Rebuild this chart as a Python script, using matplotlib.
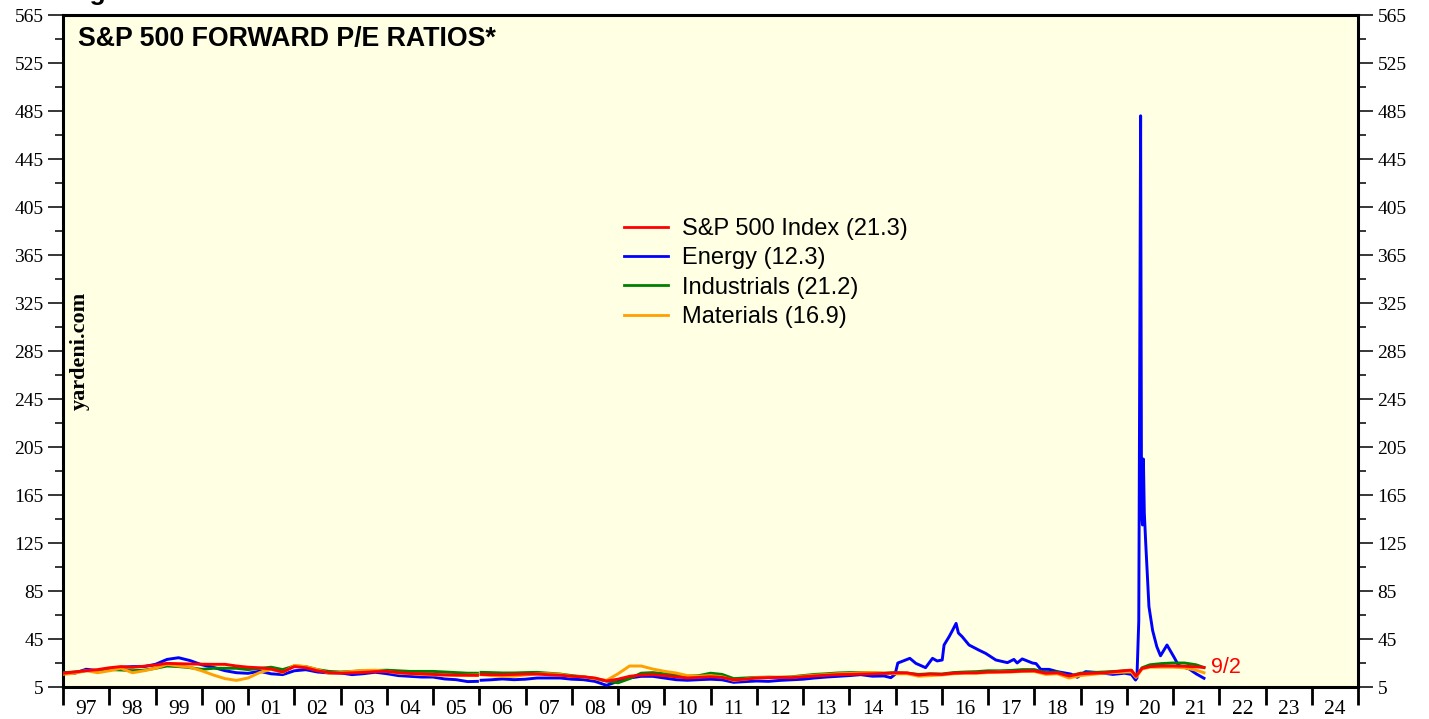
import numpy as np
import matplotlib
matplotlib.use("Agg")
import matplotlib.pyplot as plt
from matplotlib.ticker import FixedLocator, NullFormatter

# ----------------------------------------------------------------- #
# Données (trimestrielles + points clés)

# grille commune : trimestres 1997-2019, rupture début 2006, détails 2020-21
t_main = np.concatenate([
    np.arange(1997.0, 2006.0, 0.25),
    [2005.96, 2006.0, 2006.04],
    np.arange(2006.25, 2020.0, 0.25),
    [2020.0, 2020.1, 2020.2, 2020.33, 2020.5, 2020.75, 2021.0, 2021.25, 2021.5, 2021.67],
])

sp500 = [
    16.4, 17.5, 18.6, 19.5,   # 97
    21.0, 22.0, 21.4, 22.3,   # 98
    23.3, 24.7, 24.4, 24.2,   # 99
    24.0, 23.9, 23.9, 22.5,   # 00
    21.5, 21.0, 20.0, 17.5,   # 01
    22.0, 21.0, 18.5, 17.0,   # 02
    16.5, 16.8, 17.2, 17.8,   # 03
    18.0, 17.0, 16.3, 16.0,   # 04
    15.5, 15.2, 15.0, 14.8,   # 05
    14.7, np.nan, 15.5,
    15.3, 15.2, 15.5,         # 06
    15.8, 15.8, 15.2, 14.8,   # 07
    13.9, 13.5, 12.5, 10.0,   # 08
    11.5, 13.9, 15.0, 15.3,   # 09
    14.5, 13.5, 12.5, 13.0,   # 10
    13.5, 13.0, 11.0, 11.5,   # 11
    12.5, 12.8, 13.0, 12.8,   # 12
    13.5, 14.2, 14.8, 15.3,   # 13
    15.5, 15.8, 16.0, 16.3,   # 14
    16.8, 16.8, 15.0, 15.8,   # 15
    15.5, 16.5, 16.8, 16.8,   # 16
    17.5, 17.5, 17.8, 18.3,   # 17
    18.5, 16.5, 16.8, 14.2,   # 18
    16.0, 16.5, 16.8, 17.8,   # 19
    18.8, 19.0, 14.0, 20.5, 22.0, 22.5, 22.5, 22.3, 21.8, 21.3,
]

industrials = [
    16.9, 17.5, 18.6, 18.8,
    19.5, 19.2, 18.6, 19.0,
    20.6, 22.5, 22.0, 21.1,
    19.7, 20.6, 20.6, 20.6,
    19.5, 20.5, 21.5, 19.5,
    22.5, 22.0, 19.5, 18.0,
    17.5, 18.0, 18.5, 18.8,
    19.0, 18.5, 18.0, 18.0,
    18.0, 17.5, 17.0, 16.5,
    16.5, np.nan, 17.2,
    17.0, 16.7, 16.7,
    17.0, 17.2, 16.5, 15.8,
    14.5, 13.5, 12.0, 10.0,
    8.5, 12.0, 16.5, 17.0,
    16.0, 15.0, 14.0, 14.5,
    16.5, 15.5, 12.0, 12.5,
    13.0, 13.2, 13.0, 13.5,
    14.5, 15.5, 16.0, 16.7,
    17.0, 17.0, 16.8, 16.5,
    17.0, 16.5, 15.5, 16.0,
    15.8, 17.0, 17.5, 17.8,
    18.5, 18.5, 18.8, 19.5,
    19.5, 17.0, 17.5, 14.0,
    16.5, 17.0, 17.5, 18.0,
    18.5, 18.8, 13.5, 21.0, 23.5, 24.5, 25.0, 25.0, 23.5, 21.2,
]

materials = [
    15.6, 16.4, 18.6, 16.9,
    18.5, 20.6, 16.9, 18.5,
    20.6, 23.9, 22.5, 21.4,
    18.5, 15.0, 12.0, 10.5,
    12.5, 17.0, 19.7, 17.0,
    23.0, 22.0, 19.5, 16.5,
    17.0, 18.0, 18.8, 19.0,
    18.0, 16.5, 16.0, 15.5,
    15.0, 14.8, 14.5, 14.8,
    15.0, np.nan, 15.3,
    14.5, 13.9, 14.0,
    15.0, 15.8, 16.0, 15.5,
    13.9, 13.5, 12.0, 10.5,
    16.0, 22.5, 22.5, 20.0,
    18.1, 16.7, 14.5, 14.0,
    14.5, 13.5, 10.5, 11.5,
    12.8, 13.0, 13.2, 13.2,
    14.0, 14.8, 15.3, 16.0,
    16.2, 16.8, 17.0, 16.5,
    16.0, 16.0, 14.0, 14.5,
    15.0, 16.0, 16.5, 16.5,
    17.0, 17.5, 17.5, 18.0,
    18.0, 15.5, 16.0, 12.5,
    14.5, 15.5, 16.5, 17.0,
    17.5, 17.5, 13.0, 20.0, 21.5, 21.5, 21.5, 21.0, 19.0, 16.9,
]

# Energy : sa propre grille (pics 2015-16 et 2020)
t_energy = np.concatenate([
    np.arange(1997.0, 2006.0, 0.25),
    [2005.96, 2006.0, 2006.04],
    np.arange(2006.25, 2015.0, 0.25),
    [2014.9, 2014.99, 2015.05, 2015.12, 2015.31, 2015.44, 2015.65, 2015.8, 2015.9,
     2016.01, 2016.05, 2016.16, 2016.23, 2016.31, 2016.36, 2016.44, 2016.59, 2016.8, 2016.95,
     2017.17, 2017.42, 2017.56, 2017.63, 2017.74, 2017.96, 2018.04, 2018.14, 2018.32, 2018.5,
     2018.79, 2018.93, 2019.11, 2019.4, 2019.7, 2019.95, 2020.1, 2020.19, 2020.22, 2020.26,
     2020.30, 2020.32, 2020.34, 2020.36, 2020.38, 2020.41, 2020.48, 2020.56, 2020.65, 2020.73,
     2020.87, 2021.02, 2021.12, 2021.35, 2021.5, 2021.67],
])

energy = [
    16.9, 16.4, 19.8, 18.6,
    19.0, 21.4, 22.0, 22.0,
    23.9, 28.0, 29.4, 27.0,
    23.5, 21.4, 18.6, 16.9,
    16.4, 18.1, 16.0, 15.3,
    18.5, 19.4, 17.5, 16.7,
    16.7, 15.3, 16.1, 17.3,
    16.1, 14.5, 13.9, 13.3,
    13.3, 11.7, 11.1, 9.5,
    9.7, np.nan, 10.6,
    11.0, 11.7, 11.1,
    11.5, 12.5, 12.5, 12.5,
    11.5, 11.1, 9.7, 6.4,
    9.7, 12.5, 13.9, 13.9,
    12.5, 11.1, 10.6, 11.1,
    11.5, 11.0, 8.9, 9.5,
    10.0, 9.7, 10.5, 11.0,
    11.5, 12.5, 13.3, 13.9,
    14.5, 15.3, 14.0, 14.2,
    12.8, 15.5, 25.0, 26.0, 28.9, 24.7, 21.1, 28.9, 26.7,
    27.5, 40.0, 47.0, 52.0, 58.0, 50.0, 47.0, 40.0, 35.8, 33.0,
    27.5, 25.3, 28.0, 25.0, 28.4, 25.0, 24.5, 19.7, 19.7, 17.8,
    15.8, 13.1, 17.8, 17.0, 15.5, 16.5, 15.5, 10.8, 12.5, 60.0,
    481.0, 150.0, 140.0, 195.0, 150.0, 125.0, 72.0, 52.0, 38.6, 31.0,
    40.0, 30.0, 23.0, 20.0, 16.0, 12.3,
]

series_names = ["S&P 500 Index (21.3)", "Energy (12.3)", "Industrials (21.2)", "Materials (16.9)"]
series_colors = ["#FF0000", "#0000FF", "#008000", "#FF9F00"]

year_labels = ["97", "98", "99", "00", "01", "02", "03", "04", "05", "06", "07", "08", "09", "10",
               "11", "12", "13", "14", "15", "16", "17", "18", "19", "20", "21", "22", "23", "24"]

# ----------------------------------------------------------------- #
serif = "Liberation Serif"
sans = "Liberation Sans"
plt.rcParams["font.family"] = [serif, "DejaVu Serif"]

fig = plt.figure(figsize=(14.29, 7.19), dpi=100)
ax = fig.add_axes([63 / 1429, 32 / 719, 1295 / 1429, 672 / 719])
ax.set_facecolor("#FFFFE3")

lw = 2.1
l_e, = ax.plot(t_energy, energy, color=series_colors[1], lw=lw, zorder=3)
l_i, = ax.plot(t_main, industrials, color=series_colors[2], lw=lw, zorder=4)
l_m, = ax.plot(t_main, materials, color=series_colors[3], lw=lw, zorder=5)
l_s, = ax.plot(t_main, sp500, color=series_colors[0], lw=lw, zorder=6)

ax.set_xlim(1997, 2025)
ax.set_ylim(5, 565)

# Axe x : traits aux frontières d'années, étiquettes au milieu
ax.xaxis.set_major_locator(FixedLocator(np.arange(1997, 2026)))
ax.xaxis.set_major_formatter(NullFormatter())
ax.xaxis.set_minor_locator(FixedLocator(np.arange(1997.5, 2025, 1.0)))
ax.set_xticklabels(year_labels, minor=True)
ax.tick_params(axis="x", which="major", direction="out", length=13, width=2.0, color="black")
ax.tick_params(axis="x", which="minor", length=0, pad=9, labelsize=15.5)

# Axe y : gauche et droite
ax.yaxis.set_major_locator(FixedLocator(np.arange(5, 566, 40)))
ax.yaxis.set_minor_locator(FixedLocator(np.arange(25, 566, 40)))
ax.tick_params(axis="y", which="major", direction="out", length=11, width=1.1,
               left=True, right=True, labelleft=True, labelright=True, labelsize=14, pad=3)
ax.tick_params(axis="y", which="minor", direction="out", length=5.5, width=1.1,
               left=True, right=True)

for sp in ax.spines.values():
    sp.set_linewidth(2.2)

# Titre et textes
ax.text(15 / 1295, 1 - 24 / 672, "S&P 500 FORWARD P/E RATIOS*", transform=ax.transAxes,
        fontsize=19.3, fontweight="bold", fontfamily=sans, va="center", ha="left")
ax.text(17 / 1295, 0.5, "yardeni.com", transform=ax.transAxes, rotation=90,
        fontsize=16, fontweight="bold", va="center", ha="center")
ax.text(2021.83, 21.3, "9/2", color="#FF0000", fontsize=15.5, fontfamily=sans, va="center", ha="left")
fig.text(66 / 1429, 1.0, "Figure 3.", fontsize=19, fontweight="bold", fontfamily=sans, va="baseline")

# Légende
leg = ax.legend([l_s, l_e, l_i, l_m], series_names, frameon=False, loc="upper left",
                bbox_to_anchor=(624 / 1429, 1 - 218 / 719), bbox_transform=fig.transFigure,
                prop={"family": sans, "size": 17}, handlelength=1.85, handletextpad=0.6,
                labelspacing=0.31, borderpad=0, borderaxespad=0)
for h in leg.get_lines():
    h.set_linewidth(2.0)

fig.savefig("out.png", dpi=100)
